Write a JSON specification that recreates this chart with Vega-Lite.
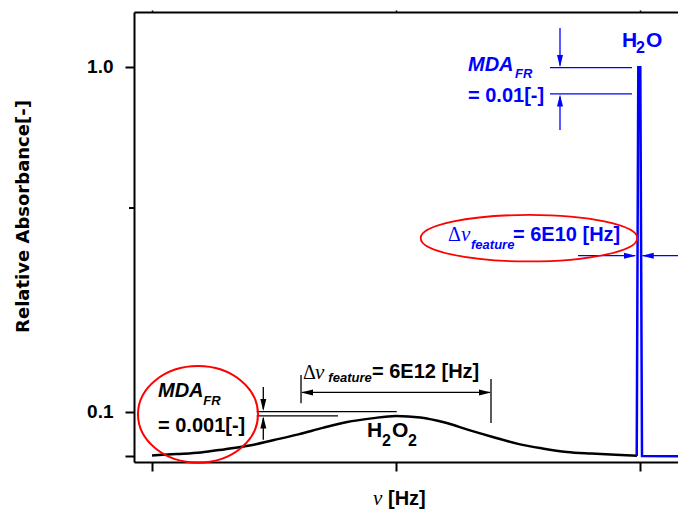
{
  "$schema": "https://vega.github.io/schema/vega-lite/v6.json",
  "width": 544,
  "height": 450,
  "autosize": {"type": "none"},
  "padding": {"left": 134, "top": 12, "right": 0, "bottom": 48},
  "background": "white",
  "config": {"view": {"stroke": null}},
  "resolve": {"axis": {"x": "independent"}},
  "datasets": {
    "h2o2": [
      {"x": 0.0, "y": 0.0748, "group": "H2O2"},
      {"x": 0.1, "y": 0.0755, "group": "H2O2"},
      {"x": 0.2, "y": 0.0763, "group": "H2O2"},
      {"x": 0.3, "y": 0.0780, "group": "H2O2"},
      {"x": 0.4, "y": 0.0799, "group": "H2O2"},
      {"x": 0.5, "y": 0.0829, "group": "H2O2"},
      {"x": 0.6, "y": 0.0861, "group": "H2O2"},
      {"x": 0.7, "y": 0.0899, "group": "H2O2"},
      {"x": 0.8, "y": 0.0935, "group": "H2O2"},
      {"x": 0.9, "y": 0.0958, "group": "H2O2"},
      {"x": 1.0, "y": 0.0974, "group": "H2O2"},
      {"x": 1.1, "y": 0.0964, "group": "H2O2"},
      {"x": 1.2, "y": 0.0932, "group": "H2O2"},
      {"x": 1.3, "y": 0.0886, "group": "H2O2"},
      {"x": 1.4, "y": 0.0845, "group": "H2O2"},
      {"x": 1.5, "y": 0.0808, "group": "H2O2"},
      {"x": 1.6, "y": 0.0784, "group": "H2O2"},
      {"x": 1.7, "y": 0.0766, "group": "H2O2"},
      {"x": 1.8, "y": 0.0758, "group": "H2O2"},
      {"x": 1.9, "y": 0.0752, "group": "H2O2"},
      {"x": 1.9877, "y": 0.0747, "group": "H2O2"}
    ],
    "h2o": [
      {"x": 1.9865, "y": 0.0745, "group": "H2O"},
      {"x": 1.9930, "y": 0.998, "group": "H2O"},
      {"x": 2.0012, "y": 0.998, "group": "H2O"},
      {"x": 2.0082, "y": 0.0745, "group": "H2O"},
      {"x": 2.1557, "y": 0.0744, "group": "H2O"}
    ],
    "rules": [
      {"x": 0.4291, "x2": 1.0029, "y": 0.1002, "y2": 0.1002, "group": "H2O2"},
      {"x": 0.4291, "x2": 0.7623, "y": 0.0974, "y2": 0.0974, "group": "H2O2"},
      {"x": 0.4561, "x2": 0.4561, "y": 0.1182, "y2": 0.1020, "group": "H2O2"},
      {"x": 0.4561, "x2": 0.4561, "y": 0.0830, "y2": 0.0960, "group": "H2O2"},
      {"x": 0.6150, "x2": 1.3850, "y": 0.1139, "y2": 0.1139, "group": "H2O2"},
      {"x": 0.6107, "x2": 0.6107, "y": 0.1280, "y2": 0.1060, "group": "H2O2"},
      {"x": 1.3893, "x2": 1.3893, "y": 0.1246, "y2": 0.0929, "group": "H2O2"},
      {"x": 1.6311, "x2": 1.9672, "y": 0.9953, "y2": 0.9953, "group": "H2O"},
      {"x": 1.6311, "x2": 1.9672, "y": 0.8351, "y2": 0.8351, "group": "H2O"},
      {"x": 1.6721, "x2": 1.6721, "y": 1.297, "y2": 1.01, "group": "H2O"},
      {"x": 1.6721, "x2": 1.6721, "y": 0.6568, "y2": 0.82, "group": "H2O"},
      {"x": 1.7459, "x2": 1.9800, "y": 0.2838, "y2": 0.2838, "group": "H2O"},
      {"x": 2.0110, "x2": 2.1557, "y": 0.2838, "y2": 0.2838, "group": "H2O"}
    ],
    "minor_tick": [
      {"x": -0.0943, "x2": -0.0738, "y": 0.39, "y2": 0.39, "group": "axis"}
    ],
    "arrow_down": [
      {"x": 0.4561, "y": 0.1048, "group": "H2O2"},
      {"x": 1.6721, "y": 1.0409, "group": "H2O"}
    ],
    "arrow_up": [
      {"x": 0.4561, "y": 0.0932, "group": "H2O2"},
      {"x": 1.6721, "y": 0.7996, "group": "H2O"}
    ],
    "arrow_left": [
      {"x": 0.6352, "y": 0.1139, "group": "H2O2"},
      {"x": 2.0316, "y": 0.2838, "group": "H2O"}
    ],
    "arrow_right": [
      {"x": 1.3648, "y": 0.1139, "group": "H2O2"},
      {"x": 1.9590, "y": 0.2838, "group": "H2O"}
    ],
    "ellipse_flat": [{"x": 1.5451, "y": 0.3189}],
    "ellipse_round": [{"x": 0.1885, "y": 0.0984}],
    "t_bold": [
      {"x": 1.2951, "y": 0.7918, "text": "= 0.01[-]", "group": "H2O"},
      {"x": 1.4795, "y": 0.3130, "text": "= 6E10 [Hz]", "group": "H2O"},
      {"x": 0.0246, "y": 0.0875, "text": "= 0.001[-]", "group": "H2O2"},
      {"x": 0.9016, "y": 0.1255, "text": "= 6E12 [Hz]", "group": "H2O2"},
      {"x": 0.9672, "y": 0.0538, "text": "[Hz]", "group": "axis"}
    ],
    "t_formula": [
      {"x": 1.9262, "y": 1.1428, "text": "H", "group": "H2O"},
      {"x": 2.0246, "y": 1.1428, "text": "O", "group": "H2O"},
      {"x": 0.8811, "y": 0.0846, "text": "H", "group": "H2O2"},
      {"x": 0.9836, "y": 0.0846, "text": "O", "group": "H2O2"}
    ],
    "t_italic": [
      {"x": 1.2951, "y": 0.9737, "text": "MDA", "group": "H2O"},
      {"x": 0.0246, "y": 0.1105, "text": "MDA", "group": "H2O2"}
    ],
    "t_sub": [
      {"x": 1.4877, "y": 0.9273, "text": "FR", "group": "H2O"},
      {"x": 1.3074, "y": 0.2962, "text": "feature", "group": "H2O"},
      {"x": 0.2103, "y": 0.1048, "text": "FR", "group": "H2O2"},
      {"x": 0.7227, "y": 0.1224, "text": "feature", "group": "H2O2"}
    ],
    "t_digit": [
      {"x": 1.9836, "y": 1.0978, "text": "2", "group": "H2O"},
      {"x": 0.9426, "y": 0.0797, "text": "2", "group": "H2O2"},
      {"x": 1.0492, "y": 0.0797, "text": "2", "group": "H2O2"}
    ],
    "t_greek": [
      {"x": 1.2131, "y": 0.3130, "text": "Δ", "group": "H2O"},
      {"x": 0.6189, "y": 0.1245, "text": "Δ", "group": "H2O2"}
    ],
    "t_greekit": [
      {"x": 1.2664, "y": 0.3130, "text": "ν", "group": "H2O"},
      {"x": 0.6680, "y": 0.1245, "text": "ν", "group": "H2O2"},
      {"x": 0.9057, "y": 0.0538, "text": "ν", "group": "axis"}
    ]
  },
  "encoding": {
    "x": {"field": "x", "type": "quantitative", "scale": {"domain": [-0.0738, 2.1557], "nice": false, "zero": false}, "axis": null},
    "y": {"field": "y", "type": "quantitative", "scale": {"type": "log", "domain": [0.0716, 1.443], "nice": false},
      "axis": {"orient": "left", "values": [0.0746, 0.1, 1], "grid": false,
        "labelExpr": "datum.value == 1 ? '1.0' : (datum.value == 0.1 ? '0.1' : '')",
        "labelFont": "Liberation Sans", "labelFontWeight": "bold", "labelFontSize": 19, "labelColor": "#000000", "labelPadding": 12, "labelOverlap": false, "labelFlush": false,
        "tickSize": 9, "tickWidth": 2, "tickColor": "#000000", "domainColor": "#000000", "domainWidth": 2,
        "title": "Relative Absorbance[-]", "titleFont": "DejaVu Sans", "titleFontWeight": "bold", "titleFontSize": 18, "titleColor": "#000000",
        "titleX": -106, "titleY": 204, "titleAngle": 270, "titleAlign": "center", "titleBaseline": "alphabetic"}},
    "color": {"field": "group", "type": "nominal", "scale": {"domain": ["H2O", "H2O2", "axis"], "range": ["#0000ff", "#000000", "#000000"]}, "legend": null}
  },
  "layer": [
    {
      "data": {"name": "h2o2"},
      "mark": {"type": "line", "interpolate": "monotone", "strokeWidth": 2.5},
      "encoding": {
        "x": {"field": "x", "type": "quantitative", "scale": {"domain": [-0.0738, 2.1557], "nice": false, "zero": false},
          "axis": {"orient": "bottom", "values": [0, 1, 2], "labels": false, "title": null, "grid": false, "domainColor": "#000000", "domainWidth": 2, "tickColor": "#000000", "tickWidth": 2, "tickSize": 9}}
      }
    },
    {
      "data": {"name": "h2o"},
      "mark": {"type": "line", "interpolate": "linear", "strokeWidth": 2.5},
      "encoding": {
        "x": {"field": "x", "type": "quantitative", "scale": {"domain": [-0.0738, 2.1557], "nice": false, "zero": false},
          "axis": {"orient": "top", "values": [0, 1, 2], "labels": false, "title": null, "grid": false, "domainColor": "#000000", "domainWidth": 2, "tickColor": "#000000", "tickWidth": 1.5, "tickSize": 2}}
      }
    },
    {
      "data": {"name": "rules"},
      "mark": {"type": "rule", "strokeWidth": 1.3},
      "encoding": {
        "x2": {"field": "x2"},
        "y2": {"field": "y2"}
      }
    },
    {
      "data": {"name": "minor_tick"},
      "mark": {"type": "rule", "strokeWidth": 2, "clip": false},
      "encoding": {
        "x2": {"field": "x2"},
        "y2": {"field": "y2"}
      }
    },
    {
      "data": {"name": "arrow_down"},
      "mark": {"type": "point", "filled": true, "opacity": 1, "size": 144, "strokeWidth": 0, "shape": "M-0.5,-1L0.5,-1L0,1Z"}
    },
    {
      "data": {"name": "arrow_up"},
      "mark": {"type": "point", "filled": true, "opacity": 1, "size": 144, "strokeWidth": 0, "shape": "M-0.5,1L0.5,1L0,-1Z"}
    },
    {
      "data": {"name": "arrow_left"},
      "mark": {"type": "point", "filled": true, "opacity": 1, "size": 144, "strokeWidth": 0, "shape": "M1,-0.5L1,0.5L-1,0Z"}
    },
    {
      "data": {"name": "arrow_right"},
      "mark": {"type": "point", "filled": true, "opacity": 1, "size": 144, "strokeWidth": 0, "shape": "M-1,-0.5L-1,0.5L1,0Z"}
    },
    {
      "data": {"name": "ellipse_flat"},
      "mark": {"type": "point", "filled": false, "opacity": 1, "size": 46915, "strokeWidth": 1.8, "shape": "M-1,0A1,0.215,0,1,1,1,0A1,0.215,0,1,1,-1,0Z"},
      "encoding": {"color": {"value": "#ff0000"}}
    },
    {
      "data": {"name": "ellipse_round"},
      "mark": {"type": "point", "filled": false, "opacity": 1, "size": 14400, "strokeWidth": 2, "shape": "M-1,0A1,0.805,0,1,1,1,0A1,0.805,0,1,1,-1,0Z"},
      "encoding": {"color": {"value": "#ff0000"}}
    },
    {
      "data": {"name": "t_bold"},
      "mark": {"type": "text", "align": "left", "baseline": "alphabetic", "font": "Liberation Sans", "fontWeight": "bold", "fontSize": 20},
      "encoding": {"text": {"field": "text"}}
    },
    {
      "data": {"name": "t_formula"},
      "mark": {"type": "text", "align": "left", "baseline": "alphabetic", "font": "Liberation Sans", "fontWeight": "bold", "fontSize": 21},
      "encoding": {"text": {"field": "text"}}
    },
    {
      "data": {"name": "t_italic"},
      "mark": {"type": "text", "align": "left", "baseline": "alphabetic", "font": "Liberation Sans", "fontWeight": "bold", "fontStyle": "italic", "fontSize": 20},
      "encoding": {"text": {"field": "text"}}
    },
    {
      "data": {"name": "t_sub"},
      "mark": {"type": "text", "align": "left", "baseline": "alphabetic", "font": "Liberation Sans", "fontWeight": "bold", "fontStyle": "italic", "fontSize": 13},
      "encoding": {"text": {"field": "text"}}
    },
    {
      "data": {"name": "t_digit"},
      "mark": {"type": "text", "align": "left", "baseline": "alphabetic", "font": "Liberation Sans", "fontWeight": "bold", "fontSize": 16},
      "encoding": {"text": {"field": "text"}}
    },
    {
      "data": {"name": "t_greek"},
      "mark": {"type": "text", "align": "left", "baseline": "alphabetic", "font": "Liberation Serif", "fontSize": 20},
      "encoding": {"text": {"field": "text"}}
    },
    {
      "data": {"name": "t_greekit"},
      "mark": {"type": "text", "align": "left", "baseline": "alphabetic", "font": "Liberation Serif", "fontStyle": "italic", "fontSize": 21},
      "encoding": {"text": {"field": "text"}}
    }
  ]
}
